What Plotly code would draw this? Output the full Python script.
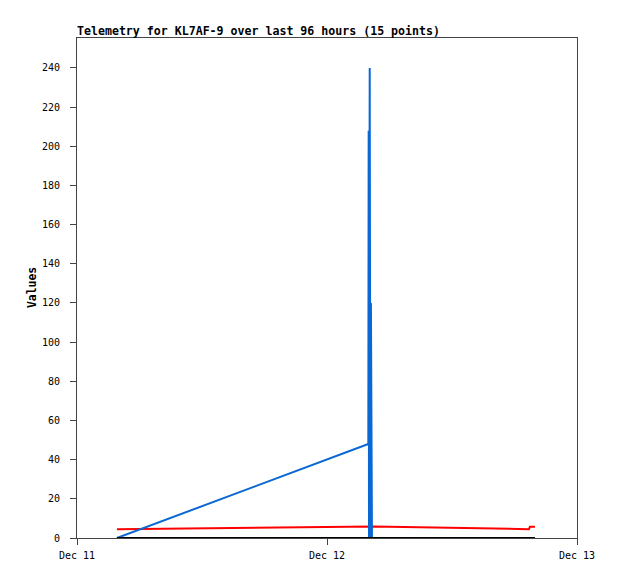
import plotly.graph_objects as go

# ---- data ----
times = [
    "2023-12-11 03:50",
    "2023-12-12 03:58",
    "2023-12-12 04:00",
    "2023-12-12 04:02",
    "2023-12-12 04:06",
    "2023-12-12 04:10",
    "2023-12-12 04:13",
    "2023-12-12 04:16",
    "2023-12-12 04:19",
    "2023-12-12 04:22",
    "2023-12-12 04:25",
    "2023-12-12 04:28",
    "2023-12-12 19:23",
    "2023-12-12 19:29",
    "2023-12-12 19:58",
]
blue_values = [0, 48, 208, 0, 240, 0, 120, 0, 0, 0, 0, 0, 0, 0, 0]
red_values = [4.5, 5.9, 5.9, 5.9, 5.9, 5.9, 5.9, 5.9, 5.9, 5.9, 5.9, 5.9, 4.5, 5.7, 5.7]
black_values = [0] * 15

x_range = ["2023-12-11 00:00", "2023-12-13 00:00"]
x_tickvals = ["2023-12-11", "2023-12-12", "2023-12-13"]
x_ticktext = ["Dec 11", "Dec 12", "Dec 13"]
y_max = 255.3
y_tickvals = list(range(0, 241, 20))

title_text = "Telemetry for KL7AF-9 over last 96 hours (15 points)"
y_title = "Values"

MONO = "DejaVu Sans Mono"
# page has an 8px body margin, so the figure is drawn 8px in from the window edge
W, H = 610, 571
L, R, T, B = 69, 41, 30, 41

fig = go.Figure()
fig.add_trace(go.Scatter(x=times, y=red_values, mode="lines",
                         line=dict(color="#ff0000", width=2), showlegend=False))
fig.add_trace(go.Scatter(x=times, y=blue_values, mode="lines",
                         line=dict(color="#0a68d4", width=2), showlegend=False))
fig.add_trace(go.Scatter(x=times, y=black_values, mode="lines",
                         line=dict(color="#000000", width=2), showlegend=False))

axis_common = dict(
    showgrid=False, zeroline=False, showline=True, linecolor="#444444",
    linewidth=1, mirror=True, ticks="outside", tickcolor="#444444",
    tickwidth=1, tickfont=dict(family=MONO, size=10, color="#000000"),
)

fig.update_layout(
    width=W, height=H,
    margin=dict(l=L, r=R, t=T, b=B, pad=0),
    paper_bgcolor="white", plot_bgcolor="white",
    title=dict(text="<b>" + title_text + "</b>", x=L / W, xanchor="left",
               xref="container", y=1 - 22.5 / H, yanchor="middle", yref="container",
               font=dict(family=MONO, size=11.6, color="#000000")),
    xaxis=dict(type="date", range=x_range, tickvals=x_tickvals,
               ticktext=x_ticktext, ticklen=6, ticklabelstandoff=2, **axis_common),
    yaxis=dict(range=[0, y_max], tickvals=y_tickvals, ticklen=6,
               ticklabelstandoff=8, **axis_common),
    annotations=[dict(text="<b>" + y_title + "</b>", textangle=-90,
                      xref="paper", yref="paper", x=(32 - 77) / (W - L - R), y=0.5,
                      xanchor="center", yanchor="middle", showarrow=False,
                      font=dict(family=MONO, size=11.4, color="#000000"))],
)

fig.write_html("out.html")
